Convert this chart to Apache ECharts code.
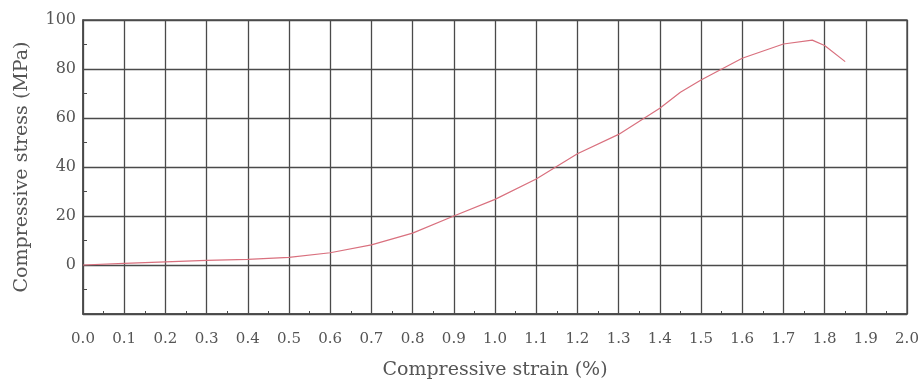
<!DOCTYPE html>
<html><head><meta charset="utf-8">
<script src="https://cdn.jsdelivr.net/npm/echarts@6/dist/echarts.min.js"></script>
<style>html,body{margin:0;padding:0;background:#fff}#c{width:922px;height:383px}</style>
</head><body><div id="c"></div>
<script>
var strain = [0.0, 0.1, 0.2, 0.3, 0.4, 0.5, 0.6, 0.7, 0.8, 0.9, 1.0, 1.1, 1.2, 1.3, 1.4, 1.45, 1.5, 1.6, 1.7, 1.77, 1.8, 1.85];
var stress = [0.0, 0.7, 1.3, 1.9, 2.3, 3.1, 5.0, 8.2, 13.0, 20.0, 26.8, 35.1, 45.4, 53.3, 64.0, 70.5, 75.5, 84.4, 90.2, 91.8, 89.6, 83.0];
var xTitle = 'Compressive strain (%)';
var yTitle = 'Compressive stress (MPa)';

var pts = strain.map(function(s, i){ return [s, stress[i]]; });
var font = 'DejaVu Serif';
var gridLine = {show: true, lineStyle: {color: '#4a4a4a', width: 1.3}};
var chart = echarts.init(document.getElementById('c'));
chart.setOption({
  animation: false,
  grid: {left: 83, right: 15, top: 20, bottom: 69, show: true, borderColor: '#4a4a4a', borderWidth: 1.3,
    containLabel: false, outerBoundsMode: 'none'},
  xAxis: {
    type: 'value', min: 0, max: 2, interval: 0.1,
    name: xTitle, nameLocation: 'middle', nameGap: 47,
    nameTextStyle: {fontFamily: font, fontSize: 19, color: '#555'},
    axisLine: {show: true, onZero: false, lineStyle: {color: '#4a4a4a', width: 1.5}},
    axisTick: {show: true, inside: true, length: 4, lineStyle: {color: '#4a4a4a'}},
    minorTick: {show: true, splitNumber: 2, length: 3, lineStyle: {color: '#4a4a4a'}},
    axisLabel: {fontFamily: font, fontSize: 15, color: '#555', margin: 18,
      formatter: function(v){ return v.toFixed(1); }},
    splitLine: gridLine
  },
  yAxis: {
    type: 'value', min: -20, max: 100, interval: 20,
    name: yTitle, nameLocation: 'middle', nameGap: 51,
    nameTextStyle: {fontFamily: font, fontSize: 19, color: '#555'},
    axisLine: {show: true, onZero: false, lineStyle: {color: '#4a4a4a', width: 1.5}},
    axisTick: {show: true, inside: true, length: 4, lineStyle: {color: '#4a4a4a'}},
    minorTick: {show: true, splitNumber: 2, length: 4, lineStyle: {color: '#4a4a4a'}},
    axisLabel: {fontFamily: font, fontSize: 16, color: '#555', margin: 7,
      formatter: function(v){ return v < 0 ? '' : String(v); }},
    splitLine: gridLine
  },
  series: [{
    type: 'line', data: pts, showSymbol: false, smooth: false,
    lineStyle: {color: '#d9707e', width: 1.2}
  }]
});
</script></body></html>
